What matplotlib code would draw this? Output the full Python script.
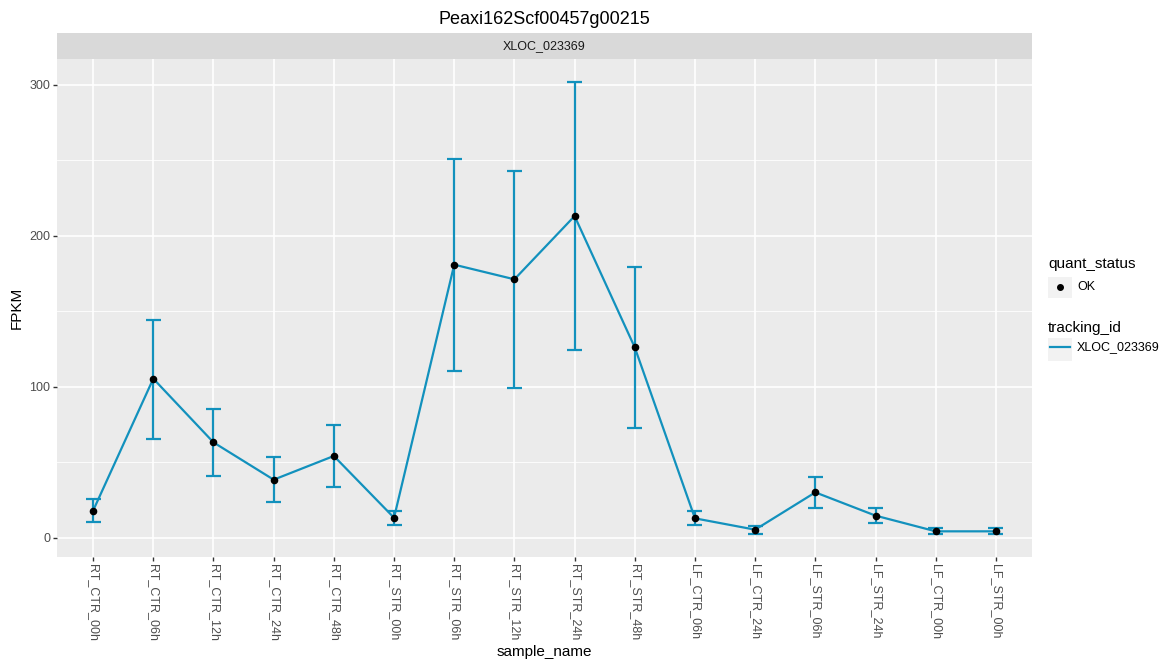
import matplotlib
matplotlib.use("Agg")
import matplotlib.pyplot as plt
import numpy as np
from matplotlib.lines import Line2D
from matplotlib.patches import Rectangle

plt.rcParams['font.family'] = ['Liberation Sans', 'DejaVu Sans']

samples = ["RT_CTR_00h", "RT_CTR_06h", "RT_CTR_12h", "RT_CTR_24h", "RT_CTR_48h",
           "RT_STR_00h", "RT_STR_06h", "RT_STR_12h", "RT_STR_24h", "RT_STR_48h",
           "LF_CTR_06h", "LF_CTR_24h", "LF_STR_06h", "LF_STR_24h", "LF_CTR_00h",
           "LF_STR_00h"]
fpkm = [17.9, 105.3, 63.1, 38.4, 54.1, 13.2, 180.8, 171.1, 213.0, 126.0,
        12.8, 5.3, 30.0, 14.6, 4.2, 4.2]
conf_hi = [25.4, 144.4, 85.4, 53.4, 74.6, 17.9, 251.0, 242.6, 302.0, 179.5,
           17.4, 7.7, 40.4, 19.4, 6.2, 6.2]
conf_lo = [10.1, 65.6, 41.0, 23.8, 33.3, 8.2, 110.1, 99.3, 124.5, 72.8,
           8.2, 2.6, 19.7, 9.5, 2.2, 2.2]

gene = "Peaxi162Scf00457g00215"
track = "XLOC_023369"
col = "#1291BD"

W, H = 1162, 662
fig = plt.figure(figsize=(W / 100, H / 100), dpi=100)
ax = fig.add_axes([57 / W, 1 - 557 / H, (1032 - 57) / W, (557 - 59) / H])
ax.set_facecolor("#EBEBEB")

x = np.arange(len(samples))
ax.set_xlim(-0.6, len(samples) - 0.4)
ax.set_ylim(-12.8, 317)

# grid
for yv in [50, 150, 250]:
    ax.axhline(yv, color="white", lw=0.6, zorder=0)
for yv in [0, 100, 200, 300]:
    ax.axhline(yv, color="white", lw=1.2, zorder=0)
for xv in x:
    ax.axvline(xv, color="white", lw=1.2, zorder=0)

# error bars
ax.vlines(x, conf_lo, conf_hi, color=col, lw=1.6, zorder=2)
ax.hlines(conf_hi, x - 0.125, x + 0.125, color=col, lw=1.6, zorder=2)
ax.hlines(conf_lo, x - 0.125, x + 0.125, color=col, lw=1.6, zorder=2)
ax.plot(x, fpkm, color=col, lw=1.6, zorder=3)
ax.scatter(x, fpkm, color="black", s=20, zorder=4)

for s in ax.spines.values():
    s.set_visible(False)
ax.set_xticks(x)
ax.set_xticklabels(samples, rotation=270, ha="center", va="top", fontsize=9, color="#4D4D4D")
ax.set_yticks([0, 100, 200, 300])
ax.set_yticklabels(["0", "100", "200", "300"], fontsize=9, color="#4D4D4D")
ax.tick_params(length=3, width=1, color="#333333", pad=2)
ax.set_xlabel("sample_name", fontsize=11, labelpad=3)
ax.set_ylabel("FPKM", fontsize=11, labelpad=4)

# facet strip
strip = fig.add_axes([57 / W, 1 - 59 / H, (1032 - 57) / W, 26 / H])
strip.set_facecolor("#D9D9D9")
strip.set_xticks([])
strip.set_yticks([])
for s in strip.spines.values():
    s.set_visible(False)
strip.text(0.5, 0.5, track, ha="center", va="center", fontsize=9, color="#1A1A1A",
           transform=strip.transAxes)

fig.text(544 / W, 1 - 19 / H, gene, ha="center", va="center", fontsize=13)

# legends
fig.text(1048 / W, 1 - 264 / H, "quant_status", ha="left", va="center", fontsize=11)
fig.patches.append(Rectangle((1048 / W, 1 - 298 / H), 24 / W, 21 / H, transform=fig.transFigure,
                             facecolor="#F2F2F2", edgecolor="none"))
fig.lines.append(Line2D([1060 / W], [1 - 287 / H], marker="o", color="black", markersize=4,
                        transform=fig.transFigure))
fig.text(1077 / W, 1 - 287 / H, "OK", ha="left", va="center", fontsize=9)

fig.text(1048 / W, 1 - 328 / H, "tracking_id", ha="left", va="center", fontsize=11)
fig.patches.append(Rectangle((1048 / W, 1 - 361 / H), 24 / W, 23 / H, transform=fig.transFigure,
                             facecolor="#F2F2F2", edgecolor="none"))
fig.lines.append(Line2D([1050 / W, 1070 / W], [1 - 347 / H, 1 - 347 / H], color=col, lw=1.6,
                        transform=fig.transFigure))
fig.text(1077 / W, 1 - 347 / H, track, ha="left", va="center", fontsize=9)

fig.savefig("out.png", dpi=100)
